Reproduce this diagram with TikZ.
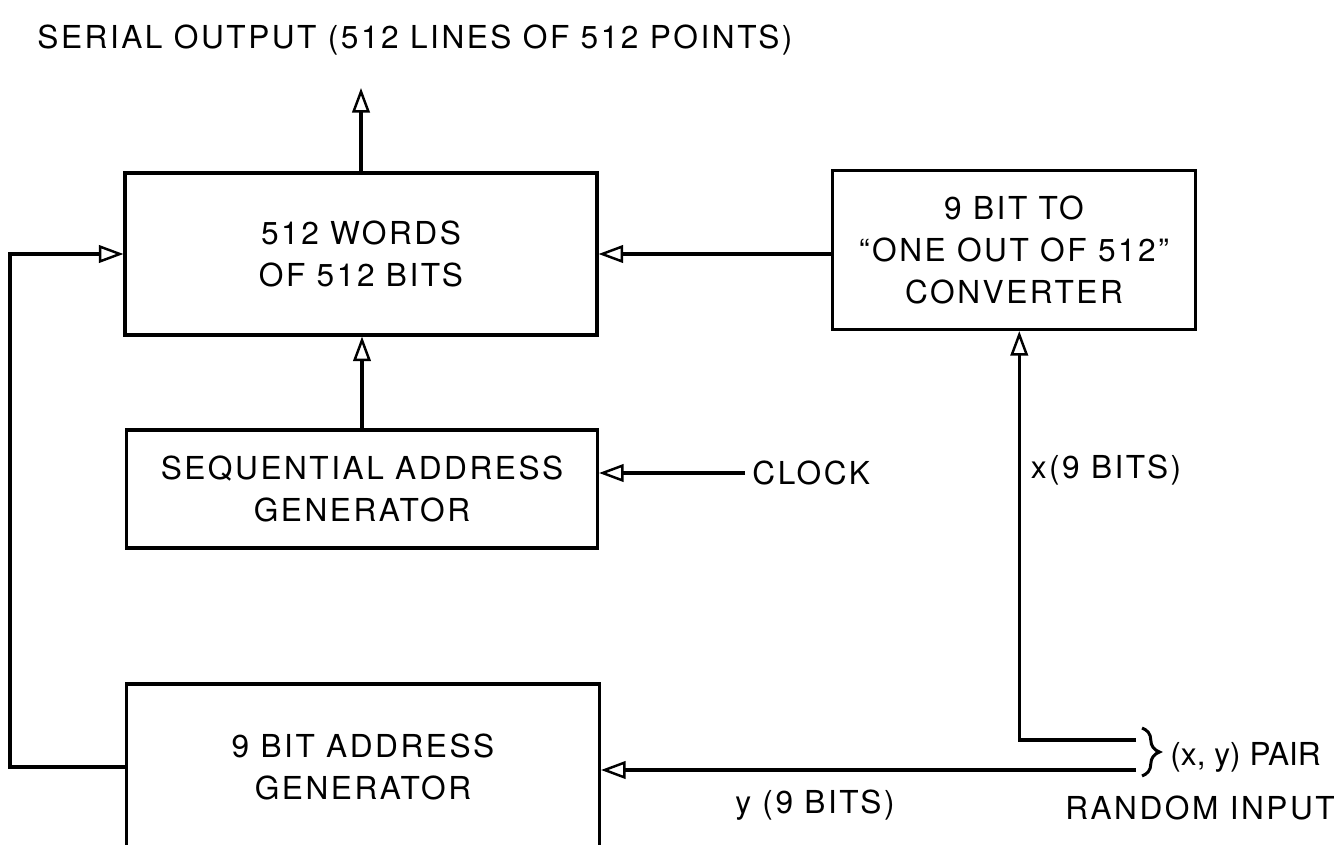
\documentclass[tikz,border=0pt]{standalone}
\usepackage{fontspec}
\setmainfont{TeX Gyre Heros}[LetterSpace=8]
\usepackage{tikz}
\usetikzlibrary{arrows.meta}
\usetikzlibrary{decorations.pathreplacing}
\begin{document}
\begin{tikzpicture}[x=0.02cm,y=-0.02cm,line width=1.8pt,
    blk/.style={draw,align=center,inner sep=0pt},
    arr/.style={-{Triangle[open,length=14pt,width=10pt,line width=1.4pt]}},
    lbl/.style={font=\fontsize{18}{24}\selectfont,align=center}]
      \useasboundingbox (0,0) rectangle (1343,845);
      \clip (0,0) rectangle (1343,845);
      \node[lbl,anchor=west] (title) at (30,40) {SERIAL OUTPUT (512 LINES OF 512 POINTS)};
      \node[blk,lbl,minimum width=9.44cm,minimum height=3.24cm] (words) at (361,254) {512 WORDS\\OF 512 BITS};
      \node[blk,lbl,minimum width=7.26cm,minimum height=3.18cm] (conv) at (1014,250) {9 BIT TO\\``ONE OUT OF 512''\\CONVERTER};
      \node[blk,lbl,minimum width=9.42cm,minimum height=2.36cm] (seq) at (362,489) {SEQUENTIAL ADDRESS\\GENERATOR};
      \node[blk,lbl,minimum width=9.46cm,minimum height=3.32cm] (addr) at (363,767) {9 BIT ADDRESS\\GENERATOR};
      \node[lbl,anchor=west] (clock) at (745,473) {CLOCK};
      \node[lbl] (xlab) at (1106,470) {x(9 BITS)};
      \node[lbl] (ylab) at (815,805) {y (9 BITS)};
      \node[lbl,anchor=west,font=\fontsize{18}{24}\selectfont\addfontfeature{LetterSpace=0}] (pair) at (1163,757) {(x, y) PAIR};
      \node[lbl] (rand) at (1200,808) {RANDOM INPUT};
      \coordinate (out) at (363,88);
      \coordinate (xin) at (1136,740);
      \coordinate (yin) at (1136,770);
      \draw[arr] (words.north) -- (words.north |- out);
      \draw[arr] (words.east -| conv.west) -- (words.east);
      \draw[arr] (seq.north) -- (seq.north |- words.south);
      \draw[arr] (clock.west) -- (clock.west -| seq.east);
      \draw[arr] (addr.west) -- ++(-115,0) |- (words.west);
      \draw[arr] (xin) -| ([xshift=3pt]conv.south);
      \draw[arr] (yin) -- (yin -| addr.east);
      \draw[line width=1.7pt,decorate,decoration={brace,amplitude=10pt}] (1142,728) -- (1142,776);
    \end{tikzpicture}
\end{document}
